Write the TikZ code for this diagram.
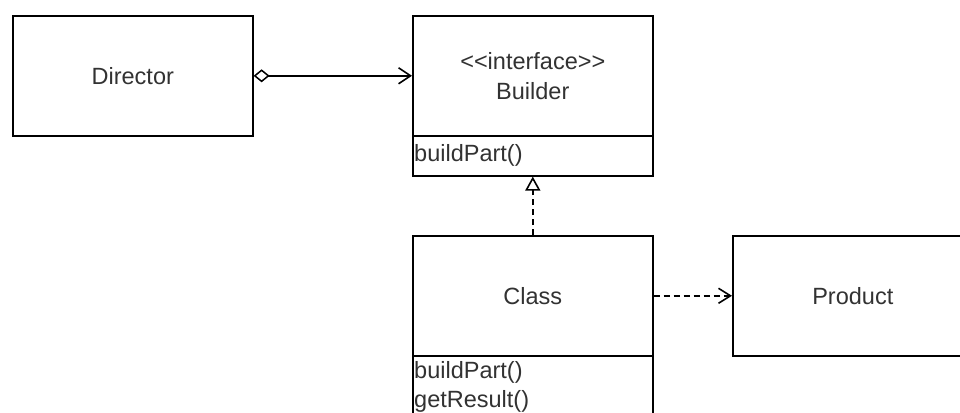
\documentclass[tikz,border=0pt]{standalone}
\usepackage{fontspec}
\setmainfont{Liberation Sans}
\usetikzlibrary{arrows.meta}
\definecolor{txt}{RGB}{50,50,50}
\tikzset{
  umlbox/.style={draw, line width=1.6pt, minimum width=240pt, minimum height=120pt, inner sep=0pt, anchor=north west, text=txt, font=\fontsize{23.5}{30}\selectfont, align=center},
  compbox/.style={draw, line width=1.6pt, minimum width=240pt, inner sep=0pt, anchor=north west},
  methodtxt/.style={anchor=west, inner sep=0pt, text=txt, font=\fontsize{23.5}{30}\selectfont},
  conn/.style={line width=1.6pt},
  dashconn/.style={line width=1.6pt, dash pattern=on 6pt off 4pt},
}
\begin{document}
\begin{tikzpicture}[x=1pt,y=-1pt]
\useasboundingbox (0,0) rectangle (960,412);
\clip (0,0) rectangle (960,412);
\node[umlbox] (director) at (12,15) {Director};
\node[umlbox] (builder) at (412,15) {<\kern0pt<interface>\kern0pt>\\Builder};
\node[compbox, minimum height=40pt] (bcomp) at (412,135) {};
\node[methodtxt] (bm1) at (414,155) {buildPart()};
\node[umlbox] (class) at (412,235) {Class};
\node[compbox, minimum height=75pt] (ccomp) at (412,355) {};
\node[methodtxt] (cm1) at (414,372) {buildPart()};
\node[methodtxt] (cm2) at (414,401) {getResult()};
\node[umlbox] (product) at (732,235) {Product};
\draw[conn, {Diamond[open, length=16pt, width=13pt, line width=1.5pt]}-{Straight Barb[length=12pt, width=16pt, line width=1.6pt]}] (director.east) -- (builder.west);
\draw[dashconn, -{Triangle[open, length=14pt, width=15pt, line width=1.6pt]}] (class.north) -- (bcomp.south);
\draw[dashconn, -{Straight Barb[length=12pt, width=15pt, line width=1.6pt]}] (class.east) -- (product.west);
\end{tikzpicture}
\end{document}
